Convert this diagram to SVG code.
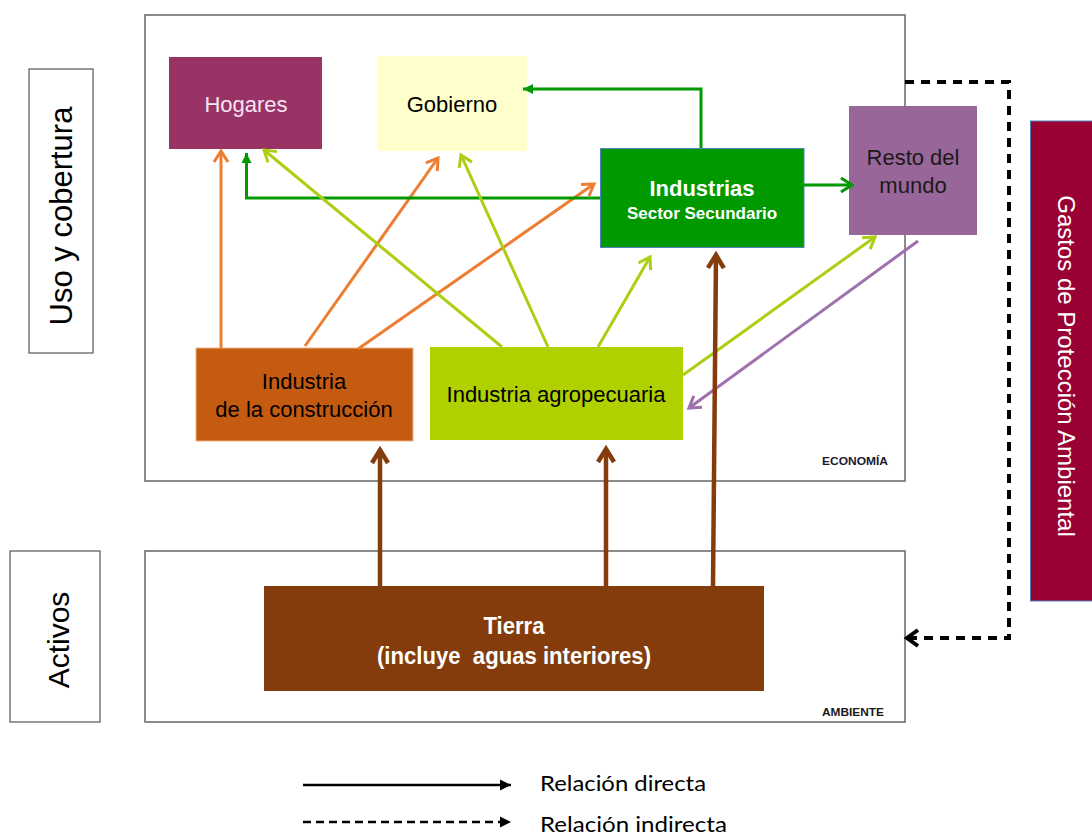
<svg xmlns="http://www.w3.org/2000/svg" width="1092" height="835" viewBox="0 0 1092 835">
<style>
.frame{fill:#fff;stroke:#666;stroke-width:1.5}
.lbl{fill:#fff;stroke:#555;stroke-width:1.2}
.t{font-family:"Liberation Sans",Arial,sans-serif;font-size:22px;text-anchor:middle}
.tb{font-family:"Liberation Sans",Arial,sans-serif;font-weight:bold;text-anchor:middle}
.leg{font-family:Lato,"Liberation Sans",sans-serif;font-size:22px;fill:#000}
.c{fill:none;stroke-linecap:butt;stroke-linejoin:miter}
.o{stroke:#ED7D31;stroke-width:3}
.g{stroke:#009900;stroke-width:3}
.y{stroke:#ABCF12;stroke-width:3}
.p{stroke:#9E70AE;stroke-width:3}
.b{stroke:#843C0C;stroke-width:4.5}
.k{stroke:#000;stroke-width:4;stroke-dasharray:9 7}
</style>
<defs>
<marker id="aO" viewBox="-16 -10 20 20" markerWidth="20" markerHeight="20" refX="0" refY="0" orient="auto" markerUnits="userSpaceOnUse"><path d="M-11,-7 L0,0 L-11,7" fill="none" stroke="#ED7D31" stroke-width="3"/></marker>
<marker id="aY" viewBox="-16 -10 20 20" markerWidth="20" markerHeight="20" refX="0" refY="0" orient="auto" markerUnits="userSpaceOnUse"><path d="M-11,-7 L0,0 L-11,7" fill="none" stroke="#ABCF12" stroke-width="3"/></marker>
<marker id="aP" viewBox="-16 -10 20 20" markerWidth="20" markerHeight="20" refX="0" refY="0" orient="auto" markerUnits="userSpaceOnUse"><path d="M-11,-7 L0,0 L-11,7" fill="none" stroke="#9E70AE" stroke-width="3"/></marker>
<marker id="aG" viewBox="-16 -10 20 20" markerWidth="20" markerHeight="20" refX="0" refY="0" orient="auto" markerUnits="userSpaceOnUse"><path d="M-11,-7 L0,0 L-11,7" fill="none" stroke="#009900" stroke-width="3"/></marker>
<marker id="aGf" viewBox="-12 -6 14 12" markerWidth="14" markerHeight="12" refX="0" refY="0" orient="auto" markerUnits="userSpaceOnUse"><path d="M-10,-5 L0,0 L-10,5 Z" fill="#009900"/></marker>
<marker id="aB" viewBox="-18 -12 22 24" markerWidth="22" markerHeight="24" refX="0" refY="0" orient="auto" markerUnits="userSpaceOnUse"><path d="M-13,-8 L0,0 L-13,8" fill="none" stroke="#843C0C" stroke-width="4.5"/></marker>
<marker id="aK" viewBox="-18 -12 22 24" markerWidth="22" markerHeight="24" refX="0" refY="0" orient="auto" markerUnits="userSpaceOnUse"><path d="M-11,-8 L0,0 L-11,8" fill="none" stroke="#000" stroke-width="4"/></marker>
<marker id="aKf" viewBox="-12 -7 14 14" markerWidth="14" markerHeight="14" refX="0" refY="0" orient="auto" markerUnits="userSpaceOnUse"><path d="M-11,-5.5 L0,0 L-11,5.5 Z" fill="#000"/></marker>
</defs>

<g id="economia">
<rect class="frame" x="145" y="15" width="760" height="466"/>
<text x="888" y="465" font-family="'Liberation Sans',Arial,sans-serif" font-size="11" font-weight="bold" fill="#1a1a33" text-anchor="end" textLength="66" lengthAdjust="spacingAndGlyphs">ECONOMÍA</text>
</g>
<g id="ambiente">
<rect class="frame" x="145" y="551" width="760" height="171"/>
<text x="884" y="716" font-family="'Liberation Sans',Arial,sans-serif" font-size="11" font-weight="bold" fill="#1a1a1a" text-anchor="end" textLength="62" lengthAdjust="spacingAndGlyphs">AMBIENTE</text>
</g>

<g id="uso-cobertura">
<rect class="lbl" x="29" y="69" width="64" height="284"/>
<text class="t" style="font-size:31px" transform="translate(72,216) rotate(-90)">Uso y cobertura</text>
</g>
<g id="activos">
<rect class="lbl" x="10" y="551" width="90" height="171"/>
<text class="t" style="font-size:30px" transform="translate(69,640) rotate(-90)">Activos</text>
</g>

<g id="hogares">
<rect x="169" y="57" width="153" height="92" fill="#993366"/>
<text class="t" x="246" y="112" fill="#F3E3F3">Hogares</text>
</g>
<g id="gobierno">
<rect x="377" y="56" width="150" height="95" fill="#FFFFCC"/>
<text class="t" x="452" y="112" fill="#000">Gobierno</text>
</g>
<g id="industrias">
<rect x="600.5" y="148.5" width="203.5" height="99" fill="#009900" stroke="#4F81BD" stroke-width="1"/>
<text class="tb" x="702" y="196" font-size="22" fill="#fff">Industrias</text>
<text class="tb" x="702" y="219" font-size="17" fill="#fff">Sector Secundario</text>
</g>
<g id="resto-mundo">
<rect x="849" y="106" width="128" height="129" fill="#996699"/>
<text class="t" x="913" y="165" fill="#1a1a1a">Resto del</text>
<text class="t" x="913" y="193" fill="#1a1a1a">mundo</text>
</g>
<g id="gastos">
<rect x="1030.5" y="121" width="70" height="480" fill="#990033" stroke="#4F81BD" stroke-width="1"/>
<text class="t" style="font-size:24px" fill="#fff" transform="translate(1058,366) rotate(90)">Gastos de Protección Ambiental</text>
</g>
<g id="construccion">
<rect x="196" y="348" width="217" height="93" fill="#C55A11" stroke="#F4B183" stroke-width="1"/>
<text class="t" x="304" y="389" fill="#000">Industria</text>
<text class="t" x="304" y="417" fill="#000">de la construcción</text>
</g>
<g id="agropecuaria">
<rect x="430" y="347" width="253" height="93" fill="#B0D000"/>
<text class="t" x="556" y="402" fill="#000">Industria agropecuaria</text>
</g>
<g id="tierra">
<rect x="264" y="586" width="500" height="105" fill="#843C0C"/>
<text class="tb" x="514" y="634" font-size="23" fill="#fff" textLength="61" lengthAdjust="spacingAndGlyphs">Tierra</text>
<text class="tb" x="514" y="664" font-size="23" fill="#fff" textLength="274" lengthAdjust="spacingAndGlyphs" xml:space="preserve">(incluye  aguas interiores)</text>
</g>

<g id="connectors">
<path class="c o" d="M221,348 L221,151" marker-end="url(#aO)"/>
<path class="c o" d="M305,346 L438,158" marker-end="url(#aO)"/>
<path class="c o" d="M358,349 L594,184" marker-end="url(#aO)"/>
<path class="c g" d="M701,148 L701,89 L523,89" marker-end="url(#aGf)"/>
<path class="c g" d="M600,198 L246.5,198 L246.5,153" marker-end="url(#aGf)"/>
<path class="c g" d="M804,185 L852,185" marker-end="url(#aG)"/>
<path class="c y" d="M502,347 L264,150" marker-end="url(#aY)"/>
<path class="c y" d="M548,347 L461,155" marker-end="url(#aY)"/>
<path class="c y" d="M598,347 L650,257" marker-end="url(#aY)"/>
<path class="c y" d="M683,375 L875,237" marker-end="url(#aY)"/>
<path class="c p" d="M918,241 L689,408" marker-end="url(#aP)"/>
<path class="c b" d="M380,586 L380,450" marker-end="url(#aB)"/>
<path class="c b" d="M606,586 L606,449" marker-end="url(#aB)"/>
<path class="c b" d="M713,586 L716,255" marker-end="url(#aB)"/>
<path class="c k" d="M905,82 L1009,82 L1009,638 L907,638" marker-end="url(#aK)"/>
</g>

<g id="leyenda">
<path d="M303,785 L511,785" stroke="#000" stroke-width="2.5" fill="none" marker-end="url(#aKf)"/>
<path d="M303,822 L511,822" stroke="#000" stroke-width="2.5" stroke-dasharray="8 5" fill="none" marker-end="url(#aKf)"/>
<text class="leg" x="540" y="791" textLength="166" lengthAdjust="spacingAndGlyphs">Relación directa</text>
<text class="leg" x="540" y="832" textLength="187" lengthAdjust="spacingAndGlyphs">Relación indirecta</text>
</g>
</svg>
